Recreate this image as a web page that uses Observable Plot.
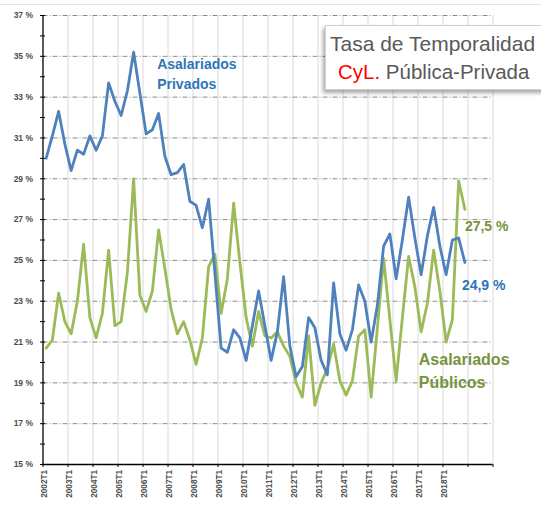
<!DOCTYPE html>
<html>
<head>
<meta charset="utf-8">
<script src="https://cdn.jsdelivr.net/npm/d3@7"></script>
<script src="https://cdn.jsdelivr.net/npm/@observablehq/plot@0.6"></script>
<style>
  html, body { margin: 0; padding: 0; background: #fff; }
  #wrap { position: relative; width: 541px; height: 505px; overflow: hidden; }
  #topline { position: absolute; left: 0; top: 4px; width: 541px; height: 1px; background: #e3e3e3; }
  #title {
    position: absolute; left: 325px; top: 25px; width: 230px; height: 63px;
    background: #fff; border: 1px solid #d0d0d0;
    box-shadow: -2px 3px 4px rgba(0,0,0,0.35);
    font-family: "Liberation Sans", Arial, sans-serif; color: #595959;
  }
  #title .l1 { position: absolute; left: 4px; top: 6px; font-size: 21px; white-space: nowrap; }
  #title .l2 { position: absolute; left: 12px; top: 34px; font-size: 20.5px; white-space: nowrap; }
  #title .red { color: #ff0000; }
</style>
</head>
<body>
<div id="wrap">
  <div id="chart"></div>
  <div id="topline"></div>
  <div id="title">
    <div class="l1">Tasa de Temporalidad</div>
    <div class="l2"><span class="red">CyL.</span> Pública-Privada</div>
  </div>
</div>
<script>
// Axis years (category groups of 4 quarters); last group 2019 has no data
const years = [2002, 2003, 2004, 2005, 2006, 2007, 2008, 2009, 2010, 2011, 2012, 2013, 2014, 2015, 2016, 2017, 2018, 2019];
const tickLabels = ["2002T1", "2003T1", "2004T1", "2005T1", "2006T1", "2007T1", "2008T1", "2009T1", "2010T1",
  "2011T1", "2012T1", "2013T1", "2014T1", "2015T1", "2016T1", "2017T1", "2018T1"];
const yTicks = [15, 17, 19, 21, 23, 25, 27, 29, 31, 33, 35, 37];

// Asalariados Privados, 2002T1 .. 2018T4 (%)
const privados = [
  30.0, 31.1, 32.3, 30.7, 29.4, 30.4, 30.2, 31.1,
  30.4, 31.1, 33.7, 32.8, 32.1, 33.3, 35.2, 33.2,
  31.2, 31.4, 32.2, 30.1, 29.2, 29.3, 29.7, 27.9,
  27.7, 26.6, 28.0, 24.4, 20.7, 20.5, 21.6, 21.2,
  20.1, 21.8, 23.5, 21.8, 20.1, 21.5, 24.2, 20.8,
  19.3, 19.8, 22.2, 21.7, 20.1, 19.4, 23.9, 21.4,
  20.6, 21.6, 23.8, 23.0, 21.0, 22.8, 25.7, 26.3,
  24.1, 26.0, 28.1, 26.1, 24.3, 26.2, 27.6, 25.7,
  24.3, 26.0, 26.1, 24.9
];
// Asalariados Públicos, 2002T1 .. 2018T4 (%)
const publicos = [
  20.7, 21.1, 23.4, 22.0, 21.4, 23.0, 25.8, 22.2,
  21.2, 22.4, 25.5, 21.8, 22.0, 24.4, 29.0, 23.3,
  22.5, 23.5, 26.5, 24.6, 22.6, 21.4, 22.0, 21.1,
  19.9, 21.2, 24.7, 25.3, 22.4, 24.1, 27.8, 24.9,
  22.2, 20.8, 22.5, 21.3, 21.2, 21.5, 20.8, 20.3,
  19.0, 18.3, 21.3, 17.9, 19.0, 19.7, 20.9, 19.1,
  18.4, 19.1, 21.3, 21.6, 18.3, 21.7, 25.1, 22.1,
  19.1, 22.2, 25.2, 23.7, 21.5, 22.9, 25.5, 23.5,
  21.0, 22.1, 28.9, 27.5
];

const nCats = years.length * 4;
const boundaries = d3.range(0, nCats + 1, 4);
const gridX = boundaries.slice(1);
const gridY = yTicks.slice(1);
const minorY = d3.range(16, 37, 2);
const last = privados.length - 1;

const font = "Liberation Sans, Arial, sans-serif";
const lblColor = "#4d4d4d";
const blueLine = "#4f81bd", greenLine = "#9bbb59";
const blueText = "#2e75b6", greenText = "#77933c";

const fmt = v => v.toFixed(1).replace(".", ",") + " %";

const chart = Plot.plot({
  width: 541,
  height: 505,
  marginLeft: 42.5,
  marginRight: 48.5,
  marginTop: 15,
  marginBottom: 41,
  style: { fontFamily: font, background: "transparent", overflow: "visible" },
  x: { domain: [0, nCats], axis: null },
  y: { domain: [15, 37], axis: null },
  marks: [
    Plot.ruleX(gridX, { stroke: "#d9d9d9", strokeWidth: 1 }),
    Plot.ruleY(gridY, { stroke: "#8c8c8c", strokeWidth: 1, strokeDasharray: "5,2,1,2" }),
    Plot.line(publicos, { x: (d, i) => i + 0.5, y: d => d, stroke: greenLine, strokeWidth: 2.8 }),
    Plot.line(privados, { x: (d, i) => i + 0.5, y: d => d, stroke: blueLine, strokeWidth: 2.8 }),
    Plot.ruleX([0], { stroke: "#000", strokeWidth: 1.3 }),
    Plot.ruleY([15], { stroke: "#000", strokeWidth: 1.3 }),
    Plot.axisY(yTicks.concat(minorY), { tickSize: 5, dx: 2.5, tickFormat: () => "", stroke: "#000" }),
    Plot.axisY(yTicks, { tickSize: 0, tickPadding: 10, tickFormat: d => `${d} %`,
      fontSize: 8.5, fontWeight: "bold", fill: lblColor }),
    Plot.axisX(boundaries, { tickSize: 3, tickFormat: () => "", stroke: "#000" }),
    Plot.text(tickLabels, { x: (d, i) => 4 * i + 0.25, y: 15, text: d => d, rotate: -90,
      textAnchor: "end", dy: 5.5, fontSize: 8.2, fontWeight: "bold", fill: lblColor }),
    // series labels
    Plot.text(["Asalariados\nPrivados"], { x: 18.27, y: 34.22, text: d => d, textAnchor: "start",
      lineHeight: 1.43, fontSize: 14, fontWeight: "bold", fill: blueText }),
    Plot.text(["Asalariados\nPúblicos"], { x: 60.13, y: 19.69, text: d => d, textAnchor: "start",
      lineHeight: 1.47, fontSize: 16, fontWeight: "bold", fill: greenText }),
    // end value labels
    Plot.text([publicos[last]], { x: last + 0.5, y: d => d, text: fmt, textAnchor: "start",
      dx: 0, dy: 17, fontSize: 14, fontWeight: "bold", fill: greenText }),
    Plot.text([privados[last]], { x: last + 0.5, y: d => d, text: fmt, textAnchor: "start",
      dx: -3, dy: 23.5, fontSize: 14, fontWeight: "bold", fill: blueText })
  ]
});
document.getElementById("chart").appendChild(chart);
</script>
</body>
</html>
